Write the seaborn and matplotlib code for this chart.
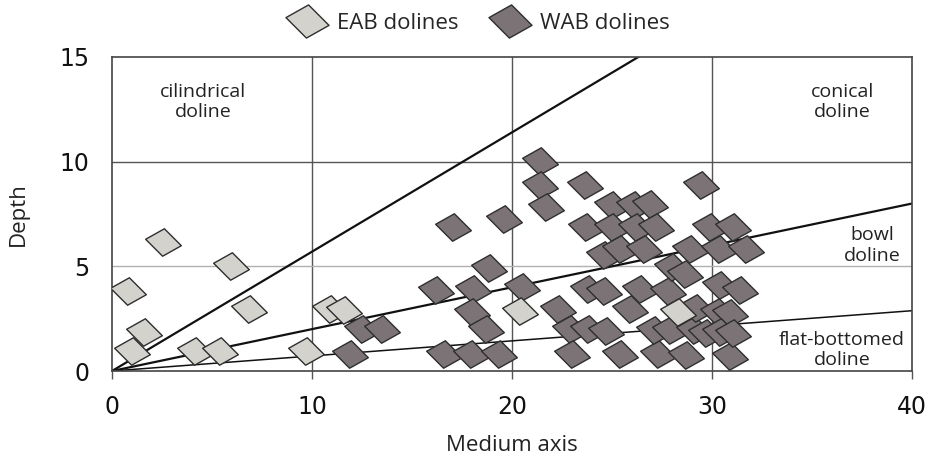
import numpy as np
import pandas as pd
import matplotlib
matplotlib.use("Agg")
import matplotlib.pyplot as plt
from matplotlib.path import Path
from matplotlib.lines import Line2D
import seaborn as sns

# EAB dolines: medium axis and depth
eab_axis = [0.8, 2.55, 5.95, 1.6, 1.0, 6.85, 4.15, 5.4, 9.7, 10.9, 11.6, 20.4, 28.3]
eab_depth = [3.8, 6.15, 5.0, 1.85, 0.95, 2.95, 0.95, 0.95, 0.95, 2.95, 2.9, 2.85, 2.8]

# WAB dolines: medium axis and depth
wab_axis = [11.9, 12.5, 13.5, 16.2, 16.6, 17.05, 17.95, 18.05, 18.0, 18.7,
            18.85, 19.35, 19.6, 20.5, 21.4, 21.4, 21.7, 22.3, 22.9, 23.0,
            23.65, 23.7, 23.8, 23.8, 24.6, 24.6, 24.7, 25.0, 25.0, 25.4,
            25.4, 25.9, 26.1, 26.2, 26.4, 26.6, 26.9, 27.2, 27.3, 27.1,
            27.8, 28.0, 28.65, 28.7, 28.9, 27.9, 29.1, 29.45, 29.7, 29.2,
            29.9, 30.35, 30.4, 30.3, 30.9, 30.9, 30.4, 31.05, 31.05, 31.4,
            31.7]
wab_depth = [0.8, 2.0, 2.0, 3.85, 0.8, 6.9, 0.8, 3.9, 2.8, 2.0,
             4.9, 0.8, 7.25, 4.0, 10.05, 8.9, 7.85, 2.95, 2.0, 0.8,
             8.9, 6.87, 2.0, 3.9, 5.55, 3.8, 1.9, 7.95, 6.87, 5.85,
             0.8, 2.95, 7.95, 6.87, 3.9, 5.85, 7.98, 6.87, 0.8, 1.95,
             3.8, 4.95, 4.65, 0.75, 5.85, 1.95, 1.95, 8.9, 1.8, 3.0,
             6.87, 5.85, 4.1, 2.8, 2.75, 0.72, 1.87, 1.8, 6.87, 3.88,
             5.82]

# depth / medium axis ratios separating the doline shapes
boundary_slopes = [0.57, 0.2, 0.072]
boundary_widths = [1.6, 1.6, 1.1]

shape_labels = ["cilindrical\ndoline", "conical\ndoline", "bowl\ndoline",
                "flat-bottomed\ndoline"]
shape_label_pos = [(4.55, 12.85), (36.5, 12.85), (38.0, 6.0), (36.5, 1.0)]

group_names = ["EAB dolines", "WAB dolines"]
group_colors = {"EAB dolines": "#d3d2cd", "WAB dolines": "#7b7375"}

x_ticks = [0, 10, 20, 30, 40]
y_ticks = [0, 5, 10, 15]

sns.set_theme(style="white")
plt.rcParams["font.family"] = ["Open Sans", "DejaVu Sans"]

# slanted rhombus marker
rhombus = Path([(-1.0, 0.18), (0.05, 0.77), (1.0, -0.18), (-0.05, -0.77), (-1.0, 0.18)],
               [Path.MOVETO, Path.LINETO, Path.LINETO, Path.LINETO, Path.CLOSEPOLY])

eab = pd.DataFrame({"axis": eab_axis, "depth": eab_depth, "group": group_names[0]})
wab = pd.DataFrame({"axis": wab_axis, "depth": wab_depth, "group": group_names[1]})

fig = plt.figure(figsize=(9.27, 4.61), dpi=100)
ax = fig.add_axes([112 / 927, 90 / 461, 800 / 927, 314 / 461])

# grid
for gx in [10, 20, 30]:
    ax.axvline(gx, color="#555555", lw=1.0, zorder=1)
ax.axhline(10, color="#555555", lw=1.0, zorder=1)
ax.axhline(5, color="#b0b0b0", lw=1.0, zorder=1)

# shape boundaries through the origin
xs = np.array([0.0, 40.0])
for s, w in zip(boundary_slopes, boundary_widths):
    ax.plot(xs, s * xs, color="#111111", lw=w, zorder=2, solid_capstyle="butt")

sns.scatterplot(data=wab, x="axis", y="depth", marker=rhombus, s=660,
                color=group_colors["WAB dolines"], edgecolor="#2e2e2e",
                linewidth=1.0, ax=ax, zorder=3, legend=False)
sns.scatterplot(data=eab, x="axis", y="depth", marker=rhombus, s=660,
                color=group_colors["EAB dolines"], edgecolor="#2e2e2e",
                linewidth=1.0, ax=ax, zorder=4, legend=False)

for txt, (tx, ty) in zip(shape_labels, shape_label_pos):
    ax.text(tx, ty, txt, ha="center", va="center", fontsize=14,
            color="#222222", linespacing=1.2, zorder=5)

ax.set_xlim(0, 40)
ax.set_ylim(0, 15)
ax.set_xticks(x_ticks)
ax.set_yticks(y_ticks)
ax.set_xticklabels([str(t) for t in x_ticks], fontsize=17,
                   family="DejaVu Sans", color="#111111")
ax.set_yticklabels([str(t) for t in y_ticks], fontsize=17,
                   family="DejaVu Sans", color="#111111")
ax.tick_params(axis="x", length=6, width=1, color="#555555", pad=11, direction="out", bottom=True)
ax.tick_params(axis="y", length=0, pad=16)

for side, sp in ax.spines.items():
    sp.set_visible(True)
    sp.set_color("#444444")
    sp.set_linewidth(1.2)

ax.set_xlabel("Medium axis", fontsize=16, color="#222222", labelpad=12)
ax.set_ylabel("Depth", fontsize=16, color="#222222", labelpad=22)

handles = [Line2D([], [], linestyle="none", marker=rhombus, markersize=31,
                  markerfacecolor=group_colors[g], markeredgecolor="#2e2e2e",
                  markeredgewidth=1.0, label=g) for g in group_names]
fig.legend(handles=handles, loc="center", bbox_to_anchor=(0.515, 0.95), ncol=2,
           frameon=False, fontsize=16, handletextpad=0.35, columnspacing=1.3,
           handlelength=2.0)

fig.savefig("out.png", dpi=100)
